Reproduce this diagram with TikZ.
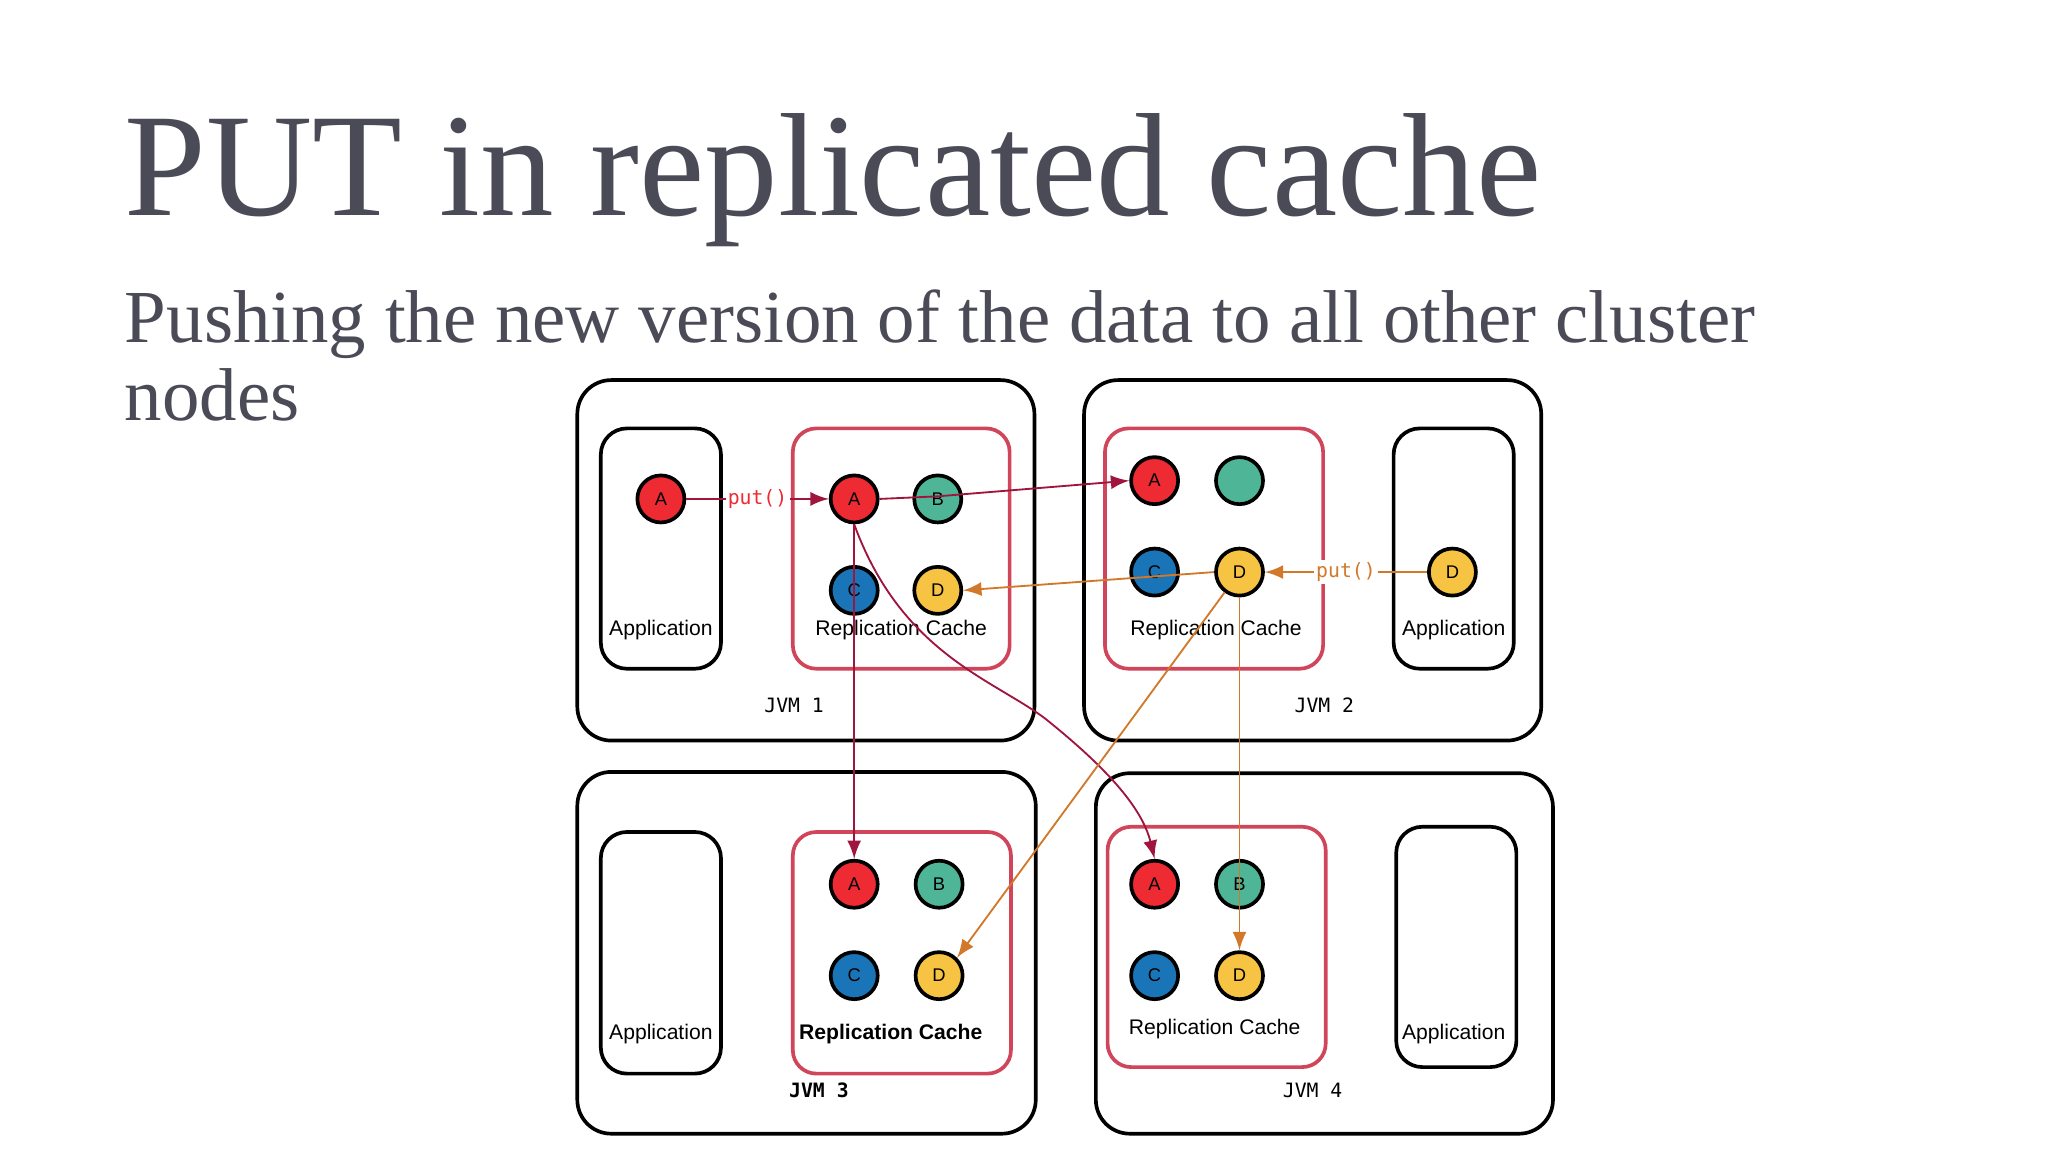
\documentclass[tikz,border=0pt]{standalone}
\usepackage{fontspec}
\setmainfont{Liberation Serif}
\newfontfamily\lblfont{Liberation Sans}
\newfontfamily\jvmfont{DejaVu Sans Mono}
\definecolor{cred}{HTML}{EE2A33}
\definecolor{cteal}{HTML}{4FB597}
\definecolor{cblue}{HTML}{1A75B8}
\definecolor{cyel}{HTML}{F6C343}
\definecolor{ared}{HTML}{A0153E}
\definecolor{aorange}{HTML}{D2782A}
\definecolor{cbord}{HTML}{D0455A}
\definecolor{ttl}{HTML}{4A4B57}
\begin{document}
\begin{tikzpicture}[x=0.01cm,y=-0.01cm]
\tikzstyle{jvm}=[draw=black, thick, rounded corners=0.26cm]
\tikzstyle{app}=[draw=black, thick, rounded corners=0.2cm]
\tikzstyle{cache}=[draw=cbord, thick, rounded corners=0.18cm]
\tikzstyle{obj}=[circle, draw=black, thick, minimum size=0.36cm, inner sep=0pt, font=\lblfont\fontsize{4}{4}\selectfont]
\tikzstyle{lbl}=[font=\lblfont\fontsize{4.6}{5}\selectfont]
\tikzstyle{jlbl}=[font=\jvmfont\fontsize{4.3}{5}\selectfont]
\tikzstyle{rconn}=[-latex, ared, thin]
\tikzstyle{oconn}=[-latex, aorange, thin]
\useasboundingbox[fill=white] (0,0) rectangle (1568,882);
% titles
\node[anchor=base west, text=ttl, font=\fontsize{32}{32}\selectfont, inner sep=0] (title) at (95,165) {PUT in replicated cache};
\node[anchor=base west, text=ttl, font=\fontsize{16.3}{16}\selectfont, inner sep=0, align=left] (sub) at (95,262) {Pushing the new version of the data to all other cluster};
\node[anchor=base west, text=ttl, font=\fontsize{16.3}{16}\selectfont, inner sep=0] (sub2) at (95,322) {nodes};
% JVM boxes
\draw[jvm] (442,291) rectangle (792,567);
\draw[jvm] (830,291) rectangle (1180,567);
\draw[jvm] (442,591) rectangle (793,868);
\draw[jvm] (839,592) rectangle (1189,868);
\draw[app] (460,328) rectangle (552,512);
\draw[cache] (607,328) rectangle (773,512);
\draw[cache] (846,328) rectangle (1013,512);
\draw[app] (1067,328) rectangle (1159,512);
\draw[app] (460,637) rectangle (552,822);
\draw[cache] (607,637) rectangle (774,822);
\draw[cache] (848,633) rectangle (1015,817);
\draw[app] (1069,633) rectangle (1161,817);
% labels
\node[lbl] (app1) at (506,482) {Application};
\node[lbl] (rc1) at (690,482) {Replication Cache};
\node[jlbl] (jvm1) at (608,540) {JVM 1};
\node[lbl] (rc2) at (931,482) {Replication Cache};
\node[lbl] (app2) at (1113,482) {Application};
\node[jlbl] (jvm2) at (1014,540) {JVM 2};
\node[lbl] (app3) at (506,792) {Application};
\node[lbl, font=\lblfont\bfseries\fontsize{4.6}{5}\selectfont] (rc3) at (682,792) {Replication Cache};
\node[jlbl, font=\jvmfont\bfseries\fontsize{4.3}{5}\selectfont] (jvm3) at (627,835) {JVM 3};
\node[lbl] (rc4) at (930,788) {Replication Cache};
\node[lbl] (app4) at (1113,792) {Application};
\node[jlbl] (jvm4) at (1005,835) {JVM 4};
% objects
\node[obj, fill=cred] (pA) at (506,382) {A};
\node[obj, fill=cred] (a1) at (654,382) {A};
\node[obj, fill=cteal] (b1) at (718,382) {B};
\node[obj, fill=cblue] (c1) at (654,452) {C};
\node[obj, fill=cyel] (d1) at (718,452) {D};
\node[obj, fill=cred] (a2) at (884,368) {A};
\node[obj, fill=cteal] (b2) at (949,368) {};
\node[obj, fill=cblue] (c2) at (884,438) {C};
\node[obj, fill=cyel] (d2) at (949,438) {D};
\node[obj, fill=cyel] (pD) at (1112,438) {D};
\node[obj, fill=cred] (a3) at (654,677) {A};
\node[obj, fill=cteal] (b3) at (719,677) {B};
\node[obj, fill=cblue] (c3) at (654,747) {C};
\node[obj, fill=cyel] (d3) at (719,747) {D};
\node[obj, fill=cred] (a4) at (884,677) {A};
\node[obj, fill=cteal] (b4) at (949,677) {B};
\node[obj, fill=cblue] (c4) at (884,747) {C};
\node[obj, fill=cyel] (d4) at (949,747) {D};
% replication
\draw[rconn] (pA) -- node[fill=white, inner sep=0.5pt, text=cred, font=\jvmfont\fontsize{4.3}{5}\selectfont] {put()} (a1);
\draw[rconn] (a1.east) -- (718,380) -- (a2.west);
\draw[rconn] (a1) -- (a3);
\draw[rconn] (a1.south) .. controls (690,500) and (760,520) .. (800,550) .. controls (850,590) and (875,620) .. (a4.north);
\draw[oconn] (pD) -- node[fill=white, inner sep=0.5pt, text=aorange, font=\jvmfont\fontsize{4.3}{5}\selectfont] {put()} (d2);
\draw[oconn] (d2.west) -- (d1.east);
\draw[oconn] (d2) -- (d3.north east);
\draw[oconn] (d2) -- (d4);
\end{tikzpicture}
\end{document}
